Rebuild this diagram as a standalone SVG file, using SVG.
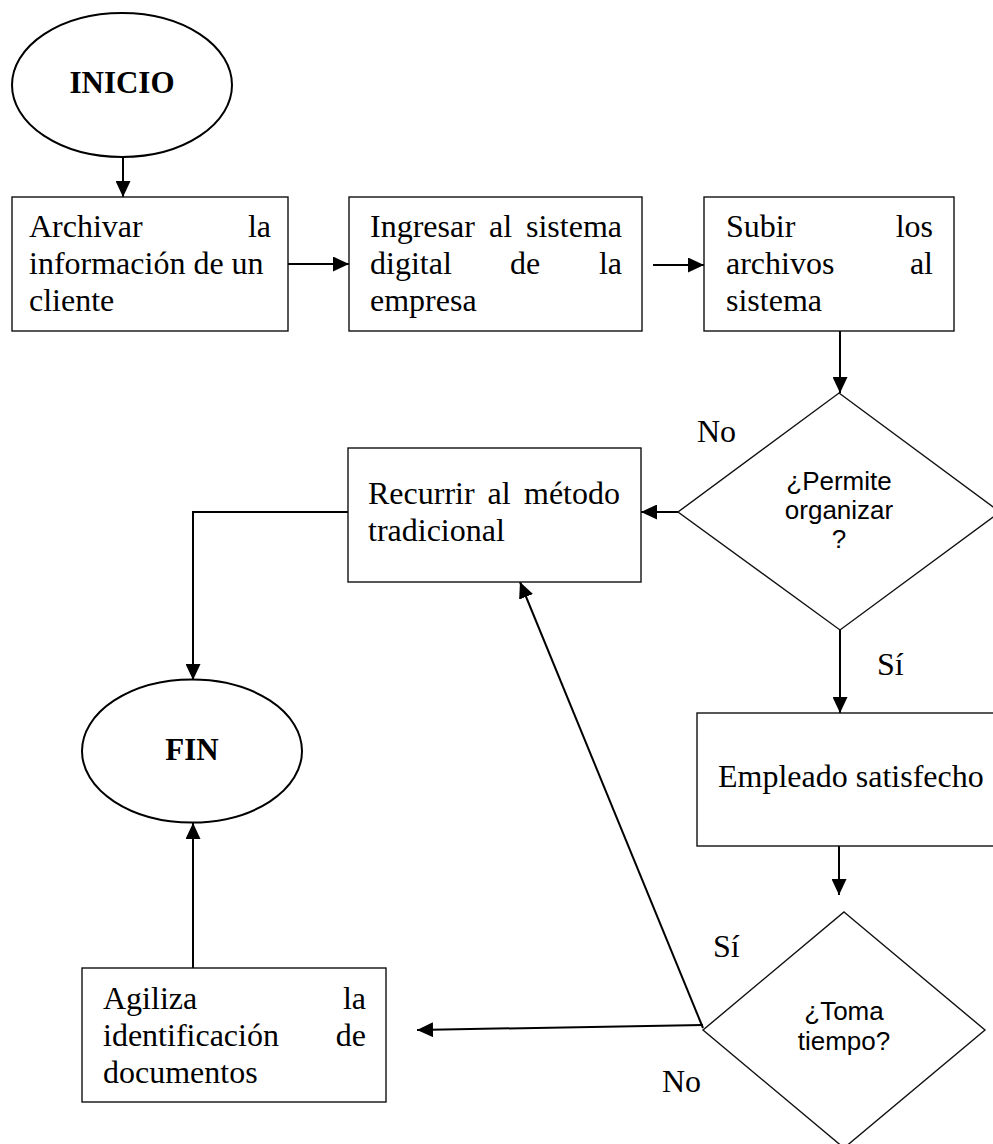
<svg xmlns="http://www.w3.org/2000/svg" width="993" height="1144" viewBox="0 0 993 1144">
<defs>
<marker id="arr" markerUnits="userSpaceOnUse" markerWidth="16" markerHeight="15" refX="16" refY="7.5" orient="auto">
<path d="M0,0 L16,7.5 L0,15 z" fill="#000"/>
</marker>
<style>
.shape{fill:#fff;stroke:#111;stroke-width:1.4}
.ell{fill:#fff;stroke:#000;stroke-width:2}
.t{font-family:"Liberation Serif","Times New Roman",serif;font-size:32px;fill:#000}
.tb{font-family:"Liberation Serif","Times New Roman",serif;font-size:31px;font-weight:bold;fill:#000}
.ts{font-family:"Liberation Sans",Arial,sans-serif;font-size:26px;fill:#000;text-anchor:middle}
.e{text-anchor:end}
.m{text-anchor:middle}
.c{fill:none;stroke:#000;stroke-width:2;marker-end:url(#arr)}
</style>
</defs>
<rect width="993" height="1144" fill="#fff"/>

<g id="connectors">
<line class="c" x1="123" y1="157" x2="123" y2="197"/>
<line class="c" x1="288" y1="264" x2="349" y2="264"/>
<line class="c" x1="653" y1="265" x2="704" y2="265"/>
<line class="c" x1="840" y1="331" x2="840" y2="393"/>
<line class="c" x1="678" y1="512" x2="641" y2="512"/>
<line class="c" x1="840" y1="630" x2="840" y2="713"/>
<line class="c" x1="839" y1="846" x2="839" y2="895"/>
<line class="c" x1="703" y1="1028" x2="520" y2="582"/>
<line class="c" x1="703" y1="1025" x2="417" y2="1030"/>
<polyline class="c" points="348,512 193,512 193,680"/>
<line class="c" x1="193" y1="968" x2="193" y2="823"/>
</g>

<g id="inicio">
<ellipse class="ell" cx="122" cy="85" rx="110" ry="72"/>
<text class="tb m" x="122" y="93">INICIO</text>
</g>

<g id="archivar">
<rect class="shape" x="12" y="197" width="276" height="134"/>
<text class="t" x="29" y="237">Archivar</text>
<text class="t e" x="271" y="237">la</text>
<text class="t" x="29" y="274">información de un</text>
<text class="t" x="29" y="311">cliente</text>
</g>

<g id="ingresar">
<rect class="shape" x="349" y="197" width="293" height="134"/>
<text class="t" x="370" y="237">Ingresar</text>
<text class="t" x="489" y="237">al</text>
<text class="t e" x="622" y="237">sistema</text>
<text class="t" x="370" y="274">digital</text>
<text class="t m" x="525" y="274">de</text>
<text class="t e" x="622" y="274">la</text>
<text class="t" x="370" y="311">empresa</text>
</g>

<g id="subir">
<rect class="shape" x="704" y="197" width="250" height="134"/>
<text class="t" x="726" y="237">Subir</text>
<text class="t e" x="933" y="237">los</text>
<text class="t" x="726" y="274">archivos</text>
<text class="t e" x="933" y="274">al</text>
<text class="t" x="726" y="311">sistema</text>
</g>

<g id="permite">
<polygon class="shape" points="839,393 1000,512 840,630 678,512"/>
<text class="ts" x="839" y="490">¿Permite</text>
<text class="ts" x="839" y="519">organizar</text>
<text class="ts" x="839" y="548">?</text>
</g>

<g id="recurrir">
<rect class="shape" x="348" y="448" width="293" height="134"/>
<text class="t" x="368" y="504">Recurrir</text>
<text class="t m" x="499" y="504">al</text>
<text class="t e" x="620" y="504">método</text>
<text class="t" x="368" y="541">tradicional</text>
</g>

<g id="empleado">
<rect class="shape" x="697" y="713" width="310" height="133"/>
<text class="t" x="718" y="787">Empleado satisfecho</text>
</g>

<g id="toma">
<polygon class="shape" points="844,912 985,1030 844,1148 703,1030"/>
<text class="ts" x="844" y="1020">¿Toma</text>
<text class="ts" x="844" y="1050">tiempo?</text>
</g>

<g id="fin">
<ellipse class="ell" cx="192" cy="751" rx="110" ry="71.5"/>
<text class="tb m" x="192" y="760">FIN</text>
</g>

<g id="agiliza">
<rect class="shape" x="82" y="968" width="304" height="134"/>
<text class="t" x="103" y="1009">Agiliza</text>
<text class="t e" x="366" y="1009">la</text>
<text class="t" x="103" y="1046">identificación</text>
<text class="t e" x="366" y="1046">de</text>
<text class="t" x="103" y="1083">documentos</text>
</g>

<g id="labels">
<text class="t" x="697" y="442">No</text>
<text class="t" x="877" y="675">Sí</text>
<text class="t" x="713" y="957">Sí</text>
<text class="t" x="662" y="1092">No</text>
</g>
</svg>
